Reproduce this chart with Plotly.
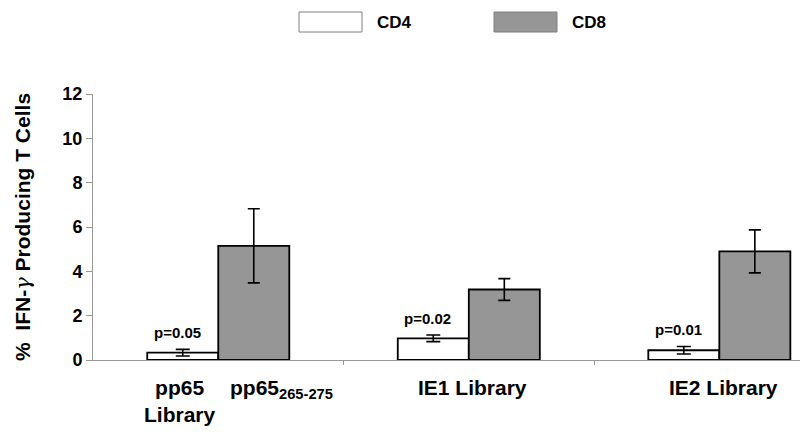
import plotly.graph_objects as go

categories = ["pp65", "IE1 Library", "IE2 Library"]
cd4_values = [0.33, 0.98, 0.44]
cd4_errors = [0.15, 0.15, 0.17]
cd8_values = [5.15, 3.18, 4.90]
cd8_errors = [1.67, 0.49, 0.97]
p_labels = ["p=0.05", "p=0.02", "p=0.01"]
y_ticks = [0, 2, 4, 6, 8, 10, 12]

FONT = "Arial, Liberation Sans, sans-serif"
x_pos = list(range(len(categories)))

fig = go.Figure()
fig.add_trace(go.Bar(
    x=x_pos, y=cd4_values, name="CD4",
    marker=dict(color="white", line=dict(color="black", width=1.8)),
    error_y=dict(type="data", array=cd4_errors, visible=True, color="black", thickness=1.6, width=7),
))
fig.add_trace(go.Bar(
    x=x_pos, y=cd8_values, name="CD8",
    marker=dict(color="#969696", line=dict(color="black", width=1.8)),
    error_y=dict(type="data", array=cd8_errors, visible=True, color="black", thickness=1.6, width=6),
))

annotations = []
# p-value labels above CD4 bars
for i, (v, e, p) in enumerate(zip(cd4_values, cd4_errors, p_labels)):
    annotations.append(dict(x=x_pos[i], y=v + e, xref="x", yref="y", text="<b>%s</b>" % p,
                            showarrow=False, xanchor="center", yanchor="bottom",
                            xshift=-41, yshift=6, font=dict(family=FONT, size=15, color="black")))

# category labels
annotations.append(dict(x=x_pos[0], y=0, xref="x", yref="paper", text="<b>pp65<br>Library</b>",
                        showarrow=False, xanchor="center", yanchor="top", xshift=-38, yshift=-14,
                        font=dict(family=FONT, size=21, color="black")))
annotations.append(dict(x=x_pos[0], y=0, xref="x", yref="paper", text="<b>pp65<sub>265-275</sub></b>",
                        showarrow=False, xanchor="left", yanchor="top", xshift=10, yshift=-14,
                        font=dict(family=FONT, size=21, color="black")))
for i in (1, 2):
    annotations.append(dict(x=x_pos[i], y=0, xref="x", yref="paper", text="<b>%s</b>" % categories[i],
                            showarrow=False, xanchor="center", yanchor="top", xshift=4, yshift=-14,
                            font=dict(family=FONT, size=21, color="black")))

# custom legend
shapes = []
legend_items = [("CD4", "white", 299), ("CD8", "#969696", 494)]
W, H = 800, 436
for name, col, x0 in legend_items:
    shapes.append(dict(type="rect", xref="paper", yref="paper",
                       x0=(x0 - 93) / (W - 93), x1=(x0 + 63 - 93) / (W - 93),
                       y0=(360 - 32) / (360 - 94), y1=(360 - 12) / (360 - 94),
                       fillcolor=col, line=dict(color="#808080", width=1)))
    annotations.append(dict(x=(x0 + 76 - 93) / (W - 93), y=(360 - 22) / (360 - 94), xref="paper", yref="paper",
                            text="<b>%s</b>" % name, showarrow=False, xanchor="left", yanchor="middle",
                            font=dict(family=FONT, size=17, color="black")))

fig.update_layout(
    width=W, height=H,
    margin=dict(l=93, r=0, t=94, b=76),
    paper_bgcolor="white", plot_bgcolor="white",
    barmode="group", bargap=0.433, bargroupgap=0,
    showlegend=False,
    font=dict(family=FONT, color="black"),
    xaxis=dict(range=[-0.5, 2.322], tickvals=[0.5, 1.5], showticklabels=False, ticks="outside",
               ticklen=4, tickcolor="#999999", showline=True, linecolor="#999999", linewidth=1,
               showgrid=False, zeroline=False),
    yaxis=dict(range=[0, 12], tickvals=y_ticks, ticks="outside", ticklen=6, tickcolor="#999999",
               showline=True, linecolor="#999999", linewidth=1, showgrid=False, zeroline=False,
               tickfont=dict(family=FONT, size=18, color="black", weight="bold"),
               title=dict(text="<b>%  IFN-<span style='font-family:DejaVu Serif;font-weight:normal'><i>γ</i></span> Producing T Cells</b>",
                          font=dict(family=FONT, size=21, color="black"), standoff=26)),
    annotations=annotations, shapes=shapes,
)
fig.write_html("out.html", config={"displayModeBar": False},
               post_script="document.body.style.margin='0';document.body.style.padding='0';")
